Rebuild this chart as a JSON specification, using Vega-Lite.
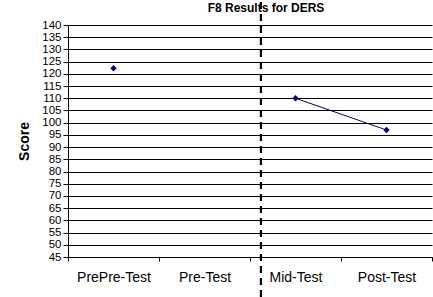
{
  "$schema": "https://vega.github.io/schema/vega-lite/v6.json",
  "width": 364,
  "height": 232,
  "autosize": {"type": "none"},
  "padding": {"left": 68, "top": 25, "right": 1, "bottom": 40},
  "background": "white",
  "config": {
    "font": "Liberation Sans",
    "view": {"stroke": null},
    "axis": {"domainColor": "black", "tickColor": "black", "labelColor": "black", "titleColor": "black", "labelFont": "Liberation Sans", "titleFont": "Liberation Sans"}
  },
  "title": {"text": "F8 Results for DERS", "frame": "group", "fontSize": 12, "fontWeight": "bold", "font": "Liberation Sans", "anchor": "middle", "dx": 16, "offset": -17, "color": "black"},
  "datasets": {
    "scores": [
      {"test": "PrePre-Test", "score": 122.3, "phase": "A"},
      {"test": "Mid-Test", "score": 110, "phase": "B"},
      {"test": "Post-Test", "score": 97, "phase": "B"}
    ],
    "divider": [
      {"test": "Mid-Test", "score": 28.6, "y2": 150.5}
    ]
  },
  "encoding": {
    "x": {"field": "test", "type": "nominal", "sort": ["PrePre-Test", "Pre-Test", "Mid-Test", "Post-Test"],
      "scale": {"domain": ["PrePre-Test", "Pre-Test", "Mid-Test", "Post-Test"], "paddingInner": 0, "paddingOuter": 0},
      "axis": {"title": null, "labelAngle": 0, "labelFontSize": 14, "labelPadding": 9, "tickBand": "extent", "tickSize": 4, "grid": false, "domainColor": "black"}},
    "y": {"field": "score", "type": "quantitative",
      "scale": {"domain": [45, 140], "nice": false, "zero": false},
      "axis": {"title": "Score", "titleFontSize": 14, "titleFontWeight": "bold", "titlePadding": 10, "values": [45,50,55,60,65,70,75,80,85,90,95,100,105,110,115,120,125,130,135,140], "labelOverlap": false, "labelFlush": false, "labelFontSize": 11.5, "labelPadding": 2, "tickSize": 5, "grid": true, "gridColor": "black", "gridOpacity": 1, "gridWidth": 1}}
  },
  "layer": [
    {
      "data": {"name": "scores"},
      "mark": {"type": "line", "color": "#000080", "strokeWidth": 1},
      "encoding": {
        "detail": {"field": "phase"}
      }
    },
    {
      "data": {"name": "scores"},
      "mark": {"type": "point", "shape": "diamond", "filled": true, "color": "#000080", "size": 40, "opacity": 1},
      "encoding": {}
    },
    {
      "data": {"name": "divider"},
      "mark": {"type": "rule", "color": "black", "strokeWidth": 2.2, "strokeDash": [7, 5], "clip": false},
      "encoding": {
        "x": {"field": "test", "type": "nominal", "bandPosition": 0.12},
        "y2": {"field": "y2"}
      }
    }
  ]
}
